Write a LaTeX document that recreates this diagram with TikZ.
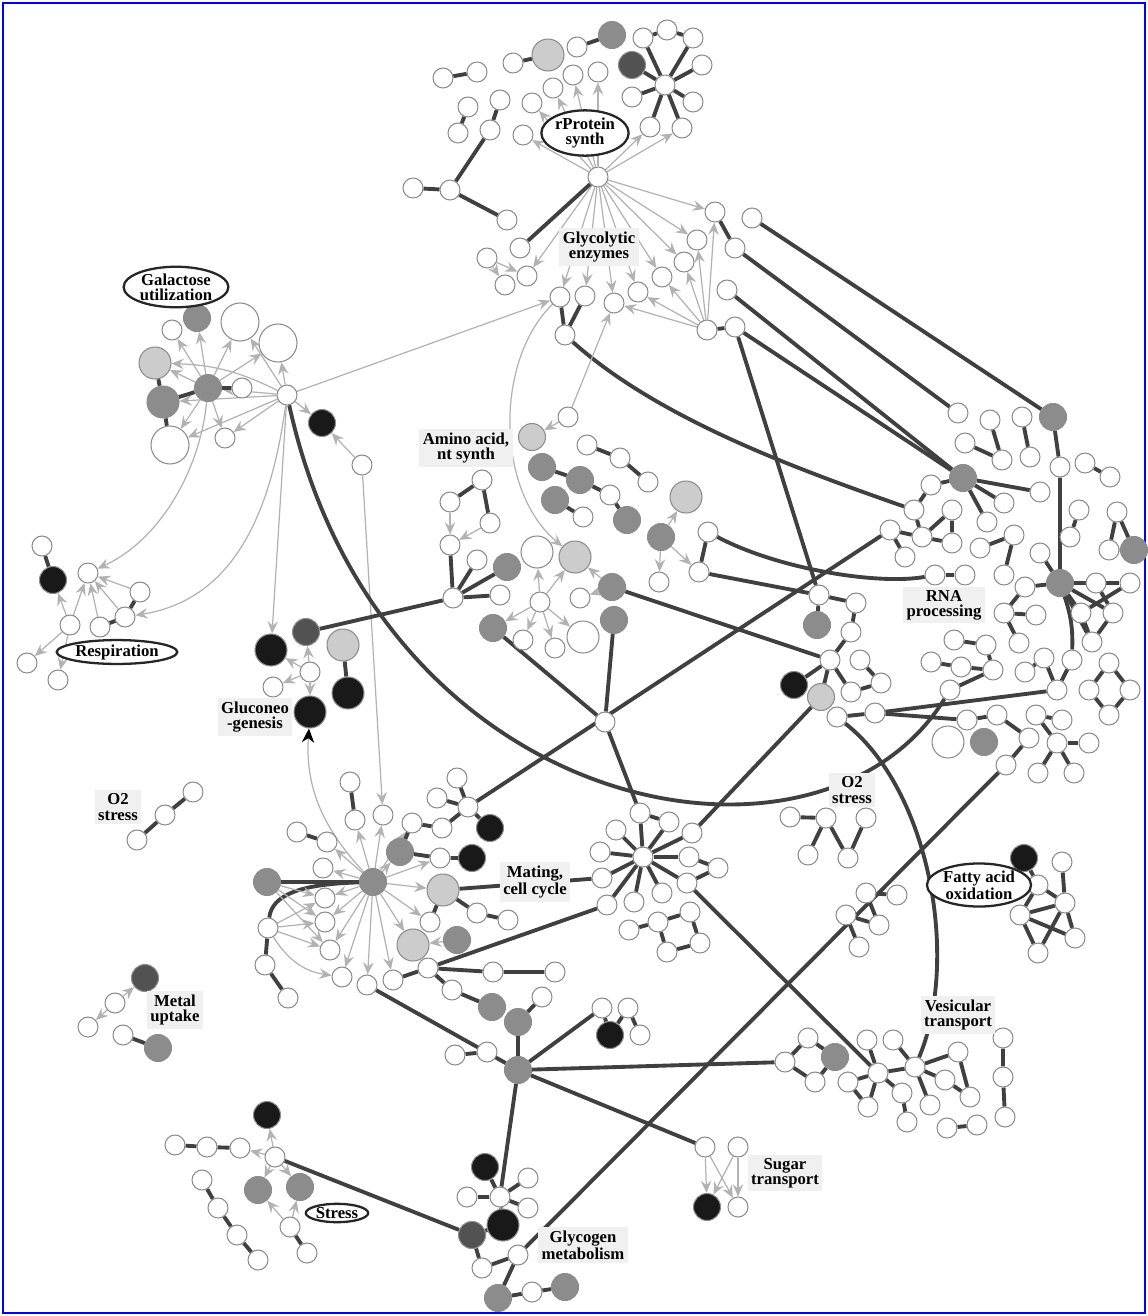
\documentclass[tikz,border=0pt]{standalone}
\usepackage{fontspec}
\setmainfont{Liberation Serif}
\usetikzlibrary{arrows.meta,shapes.geometric}
\pgfdeclarelayer{edges}
\pgfsetlayers{edges,main}
\newcommand{\grpfont}{\bfseries\fontsize{9.5}{8.6}\selectfont}
\begin{document}
\begin{tikzpicture}[x=0.02cm,y=-0.02cm,
    gene/.style={circle,draw=black!45,line width=0.6pt,fill=white,minimum size=0.4cm,inner sep=0pt},
    gmed/.style={gene,minimum size=0.54cm},
    gbig/.style={gene,minimum size=0.64cm},
    ghuge/.style={gene,minimum size=0.76cm},
    lite/.style={fill=black!20},
    gry/.style={fill=black!45},
    dkgr/.style={fill=black!68},
    dark/.style={fill=black!90},
    lnk/.style={draw=black!75,line width=2.2pt},
    reg/.style={draw=black!30,line width=0.7pt,-{Stealth[length=7pt,width=6pt,inset=2.5pt]}},
    tag/.style={fill=black!6,align=center,font=\grpfont,inner sep=2pt},
    otag/.style={ellipse,draw=black!85,line width=1.3pt,fill=white,align=center,font=\grpfont,inner sep=0.5pt}]
\useasboundingbox (0,0) rectangle (1148,1316);
\draw[blue,line width=1.5pt] (3,3) rectangle (1145,1313);

% rProtein synth
\node[gene] (r0) at (598,177) {};
\node[gene] (r1) at (523,135) {}; \node[gene] (r2) at (532,103) {}; \node[gene] (r3) at (553,88) {};
\node[gene] (r4) at (573,75) {}; \node[gene] (r5) at (598,72) {}; \node[gene] (r6) at (650,127) {};
\node[gene] (r7) at (682,128) {};
\node[gene] (s0) at (665,85) {}; \node[gene] (s1) at (643,38) {}; \node[gene] (s2) at (667,30) {};
\node[gene] (s3) at (693,38) {}; \node[gene] (s4) at (702,65) {}; \node[gene] (s5) at (693,102) {};
\node[gene] (s7) at (632,97) {}; \node[gmed,dkgr] (s8) at (632,65) {};
\node[gene] (p1a) at (513,63) {}; \node[gbig,lite] (p1b) at (548,55) {};
\node[gene] (p2a) at (577,47) {}; \node[gmed,gry] (p2b) at (612,35) {};
\node[gene] (p3a) at (443,78) {}; \node[gene] (p3b) at (477,72) {};
\node[gene] (c1) at (468,107) {}; \node[gene] (c2) at (458,133) {}; \node[gene] (c3) at (500,100) {};
\node[gene] (c4) at (490,130) {}; \node[gene] (c5) at (450,190) {}; \node[gene] (c6) at (413,188) {};
\node[gene] (c7) at (507,220) {};
\node[gene] (g1) at (520,248) {}; \node[gene] (g2) at (487,258) {}; \node[gene] (g3) at (527,276) {};
\node[gene] (g4) at (505,285) {};
\node[otag] (rpsyn) at (585,133) {rProtein\\synth};

% glycolytic enzymes
\node[gene] (t1) at (715,212) {}; \node[gene] (t2) at (697,240) {}; \node[gene] (t3) at (684,262) {};
\node[gene] (t4) at (662,277) {}; \node[gene] (t5) at (638,292) {}; \node[gene] (t6) at (614,303) {};
\node[gene] (t7) at (585,296) {}; \node[gene] (t8) at (560,297) {};
\node[gene] (gh) at (707,330) {}; \node[gene] (gk) at (735,327) {}; \node[gene] (tz) at (752,218) {};
\node[gene] (ta) at (735,248) {}; \node[gene] (tb) at (727,290) {}; \node[gene] (h1) at (565,335) {};
\node[tag] (glyc) at (599,247) {Glycolytic\\enzymes};

% galactose utilization
\node[gene] (gH) at (287,395) {}; \node[gmed,dark] (gD) at (322,423) {}; \node[gene] (gA) at (362,465) {};
\node[gmed,gry] (gM) at (208,388) {}; \node[gene] (gM2) at (242,388) {};
\node[gbig,lite] (gL) at (155,363) {}; \node[gbig,gry] (gN) at (163,402) {};
\node[ghuge] (gB) at (170,445) {}; \node[gene] (gT) at (172,330) {}; \node[gmed,gry] (gG) at (197,318) {};
\node[ghuge] (gW1) at (240,322) {}; \node[ghuge] (gW2) at (278,343) {}; \node[gene] (gS) at (225,438) {};
\node[otag] (galut) at (176,287) {Galactose\\utilization};

% respiration
\node[gene] (rA) at (42,546) {}; \node[gmed,dark] (rB) at (53,580) {}; \node[gene] (rC) at (88,573) {};
\node[gene] (rD) at (140,592) {}; \node[gene] (rE) at (125,617) {}; \node[gene] (rF) at (100,627) {};
\node[gene] (rG) at (70,625) {}; \node[gene] (rH) at (27,663) {}; \node[gene] (rI) at (58,680) {};
\node[otag] (resp) at (117,652) {Respiration};

% gluconeogenesis
\node[gbig,dark] (gcD1) at (271,650) {}; \node[gmed,dkgr] (gcD2) at (306,632) {};
\node[gene] (gcS) at (310,672) {}; \node[gene] (gcW) at (273,687) {}; \node[gbig,dark] (gcC) at (310,712) {};
\node[gbig,lite] (gcL) at (343,645) {}; \node[gbig,dark] (gcK) at (348,693) {};
\node[tag] (gluco) at (255,717) {Gluconeo\\-genesis};

% amino acid, nt synth
\node[gene] (aA) at (482,480) {}; \node[gene] (aB) at (450,502) {}; \node[gene] (aC) at (490,523) {};
\node[gene] (aD) at (450,545) {}; \node[gene] (aH) at (453,598) {}; \node[gene] (aE) at (477,560) {};
\node[gmed,gry] (aF) at (507,567) {}; \node[gene] (aG) at (500,595) {};
\node[gene] (aI) at (540,602) {}; \node[gbig] (aJ) at (537,552) {}; \node[gbig,lite] (aK) at (575,557) {};
\node[gmed,gry] (aL) at (493,628) {}; \node[gene] (aP) at (523,640) {}; \node[gene] (aQ) at (555,648) {};
\node[gbig] (aR) at (583,637) {}; \node[gmed,gry] (aM) at (612,587) {}; \node[gene] (aS) at (580,598) {};
\node[gmed,gry] (aN) at (614,620) {};
\node[gene] (u1) at (568,417) {}; \node[gmed,lite] (u2) at (532,437) {};
\node[gene] (a1) at (587,445) {}; \node[gene] (a2) at (620,458) {}; \node[gene] (a3) at (648,482) {};
\node[gmed,gry] (b1) at (542,467) {}; \node[gmed,gry] (b2) at (580,480) {}; \node[gene] (b3) at (610,495) {};
\node[gmed,gry] (b4) at (627,520) {}; \node[gmed,gry] (b5) at (555,500) {}; \node[gene] (b6) at (583,517) {};
\node[gmed,gry] (e1) at (661,537) {}; \node[gbig,lite] (e2) at (686,497) {}; \node[gene] (e3) at (659,582) {};
\node[gene] (e4) at (708,532) {}; \node[gene] (e5) at (699,572) {};
\node[tag] (amino) at (466,448) {Amino acid,\\nt synth};

% centre right
\node[gene] (q1) at (819,595) {}; \node[gene] (q2) at (856,603) {}; \node[gmed,gry] (q3) at (817,625) {};
\node[gene] (q4) at (851,632) {}; \node[gene] (q5) at (830,660) {}; \node[gmed,dark] (q6) at (794,685) {};
\node[gmed,lite] (q7) at (821,697) {}; \node[gene] (q8) at (860,660) {}; \node[gene] (q9) at (881,683) {};
\node[gene] (q10) at (851,692) {};
\node[gene] (w1) at (605,722) {}; \node[gene] (w2) at (837,717) {}; \node[gene] (w3) at (875,713) {};
\node[gene] (w4) at (967,720) {};

% RNA processing
\node[gmed,gry] (R1) at (963,478) {}; \node[gene] (R2) at (931,485) {}; \node[gene] (R3) at (914,510) {};
\node[gene] (R4) at (1004,503) {}; \node[gene] (R5) at (987,522) {}; \node[gene] (R6) at (1040,492) {};
\node[gene] (R7) at (922,537) {}; \node[gene] (R8) at (952,510) {}; \node[gene] (R9) at (952,543) {};
\node[gene] (R10) at (890,530) {}; \node[gene] (R11) at (905,557) {};
\node[gene] (R12) at (1014,535) {}; \node[gene] (R13) at (1004,575) {}; \node[gene] (R14) at (980,548) {};
\node[gene] (k1) at (935,575) {}; \node[gene] (k2) at (965,575) {};
\node[gmed,gry] (RH) at (1060,583) {};
\node[gene] (RS1) at (1040,553) {}; \node[gene] (RS2) at (1025,587) {}; \node[gene] (RS3) at (1081,613) {};
\node[gene] (RS4) at (1113,613) {}; \node[gene] (RS5) at (1092,642) {}; \node[gene] (RS6) at (1096,583) {};
\node[gene] (RS7) at (1130,583) {}; \node[gene] (RS8) at (1004,613) {}; \node[gene] (RS9) at (1019,643) {};
\node[gene] (RS10) at (1036,615) {};
\node[gene] (RU1) at (1079,510) {}; \node[gene] (RU2) at (1070,537) {}; \node[gene] (RU3) at (1117,512) {};
\node[gene] (RU4) at (1109,550) {}; \node[gmed,gry] (RU5) at (1134,550) {};
\node[gene] (RL) at (1072,660) {}; \node[gene] (RM) at (1057,690) {}; \node[gene] (RN) at (1044,658) {};
\node[gene] (RO) at (1025,672) {};
\node[gene] (RX1) at (1109,663) {}; \node[gene] (RX2) at (1089,690) {}; \node[gene] (RX3) at (1130,690) {};
\node[gene] (RX4) at (1109,715) {};
\node[gene] (m1) at (954,640) {}; \node[gene] (m2) at (986,645) {}; \node[gene] (m3) at (931,662) {};
\node[gene] (m4) at (961,667) {}; \node[gene] (m5) at (993,670) {}; \node[gene] (m6) at (950,690) {};
\node[gbig] (n1) at (948,742) {}; \node[gmed,gry] (n2) at (984,742) {}; \node[gene] (n3) at (997,715) {};
\node[gene] (n4) at (1029,738) {}; \node[gene] (n5) at (1036,715) {}; \node[gene] (n6) at (1062,720) {};
\node[gene] (n7) at (1006,765) {}; \node[gene] (n8) at (1057,743) {}; \node[gene] (n9) at (1089,743) {};
\node[gene] (n10) at (1038,773) {}; \node[gene] (n11) at (1074,773) {};
\node[gene] (T1) at (958,413) {}; \node[gene] (T2) at (990,420) {}; \node[gene] (T3) at (1022,417) {};
\node[gmed,gry] (T4) at (1053,417) {}; \node[gene] (T5) at (965,443) {}; \node[gene] (T6) at (1002,460) {};
\node[gene] (T7) at (1030,457) {}; \node[gene] (T8) at (1060,467) {}; \node[gene] (T9) at (1085,463) {};
\node[gene] (T10) at (1110,477) {};
\node[tag] (rnap) at (944,605) {RNA\\processing};

% mating, cell cycle
\node[gmed,gry] (mH) at (373,882) {}; \node[gmed,gry] (mL) at (267,882) {}; \node[gene] (mS) at (268,928) {};
\node[gene] (mS2) at (265,965) {}; \node[gene] (mS3) at (288,998) {};
\node[gene] (M1) at (350,782) {}; \node[gene] (M2) at (355,820) {}; \node[gene] (M3) at (383,815) {};
\node[gene] (M4) at (297,832) {}; \node[gene] (M5) at (327,842) {}; \node[gene] (M6) at (323,868) {};
\node[gene] (M7) at (325,898) {}; \node[gene] (M8) at (325,922) {}; \node[gene] (M9) at (330,950) {};
\node[gene] (M10) at (342,977) {}; \node[gene] (M11) at (367,985) {}; \node[gene] (M12) at (393,980) {};
\node[gmed,gry] (M13) at (400,852) {}; \node[gene] (M14) at (412,823) {}; \node[gene] (M15) at (440,858) {};
\node[gbig,lite] (M16) at (443,890) {}; \node[gene] (M17) at (430,922) {}; \node[gbig,lite] (M18) at (413,945) {};
\node[gmed,gry] (M19) at (457,940) {}; \node[gmed,dark] (M20) at (472,858) {}; \node[gene] (M21) at (477,913) {};
\node[gene] (M22) at (508,920) {}; \node[gene] (M23) at (442,828) {}; \node[gene] (M24) at (468,807) {};
\node[gene] (M25) at (457,778) {}; \node[gene] (M26) at (437,798) {}; \node[gmed,dark] (M27) at (490,828) {};
\node[gene] (M28) at (428,968) {}; \node[gene] (M29) at (493,972) {}; \node[gene] (M30) at (555,972) {};
\node[gene] (M31) at (452,990) {}; \node[gmed,gry] (M32) at (492,1007) {};
\node[gene] (H0) at (643,857) {}; \node[gene] (H1) at (640,813) {}; \node[gene] (H2) at (669,822) {};
\node[gene] (H3) at (616,830) {}; \node[gene] (H4) at (692,833) {}; \node[gene] (H5) at (600,852) {};
\node[gene] (H6) at (689,857) {}; \node[gene] (H7) at (602,878) {}; \node[gene] (H8) at (607,905) {};
\node[gene] (H9) at (634,902) {}; \node[gene] (H10) at (662,893) {}; \node[gene] (H11) at (687,883) {};
\node[gene] (H12) at (718,868) {};
\node[gene] (X1) at (690,912) {}; \node[gene] (X2) at (658,922) {}; \node[gene] (X3) at (629,930) {};
\node[gene] (X4) at (700,943) {}; \node[gene] (X5) at (667,952) {};
\node[tag] (mating) at (535,882) {Mating,\\cell cycle};

% O2 stress, fatty acid oxidation
\node[gene] (P1) at (790,817) {}; \node[gene] (P2) at (826,818) {}; \node[gene] (P3) at (866,818) {};
\node[gene] (P4) at (808,855) {}; \node[gene] (P5) at (848,858) {};
\node[gene] (P6) at (866,893) {}; \node[gene] (P7) at (897,895) {}; \node[gene] (P8) at (879,925) {};
\node[gene] (P9) at (846,915) {}; \node[gene] (P10) at (859,947) {};
\node[tag] (otwor) at (852,790) {O2\\stress};
\node[gmed,dark] (F1) at (1024,858) {}; \node[gene] (F2) at (1038,885) {}; \node[gene] (F3) at (1062,862) {};
\node[gene] (F4) at (1065,903) {}; \node[gene] (F5) at (1020,915) {}; \node[gene] (F6) at (1075,938) {};
\node[gene] (F7) at (1038,953) {};
\node[otag] (fatty) at (979,885) {Fatty acid\\oxidation};
\node[gene] (O1) at (193,792) {}; \node[gene] (O2) at (165,815) {}; \node[gene] (O3) at (137,840) {};
\node[tag] (otwol) at (118,807) {O2\\stress};

% vesicular transport
\node[gene] (vA) at (808,1038) {}; \node[gmed,gry] (vG) at (835,1057) {}; \node[gene] (vB) at (785,1062) {};
\node[gene] (vC) at (815,1082) {};
\node[gene] (vH) at (878,1073) {}; \node[gene] (vI) at (867,1040) {}; \node[gene] (vJ) at (893,1040) {};
\node[gene] (vK) at (848,1082) {}; \node[gene] (vL) at (868,1107) {}; \node[gene] (vM) at (902,1093) {};
\node[gene] (vN) at (907,1122) {};
\node[gene] (vH2) at (915,1067) {}; \node[gene] (vO) at (958,1052) {}; \node[gene] (vP) at (945,1080) {};
\node[gene] (vQ) at (970,1097) {}; \node[gene] (vR) at (930,1105) {}; \node[gene] (vS) at (947,1128) {};
\node[gene] (vT) at (977,1125) {};
\node[gene] (vU) at (1003,1038) {}; \node[gene] (vV) at (1003,1077) {}; \node[gene] (vW) at (1005,1117) {};
\node[tag] (vesic) at (958,1015) {Vesicular\\transport};

% metal uptake
\node[gmed,dkgr] (Me1) at (145,978) {}; \node[gene] (Me2) at (115,1003) {}; \node[gene] (Me3) at (88,1027) {};
\node[gene] (Me4) at (123,1035) {}; \node[gmed,gry] (Me5) at (158,1048) {};
\node[tag] (metal) at (175,1010) {Metal\\uptake};

% glycogen, sugar transport
\node[gmed,gry] (Y0) at (518,1070) {}; \node[gmed,gry] (Y1) at (518,1022) {}; \node[gene] (Y2) at (542,997) {};
\node[gene] (Y3) at (602,1008) {}; \node[gene] (Y4) at (628,1008) {}; \node[gmed,dark] (Y5) at (610,1035) {};
\node[gene] (Y6) at (640,1035) {}; \node[gene] (Y7) at (455,1055) {}; \node[gene] (Y8) at (487,1052) {};
\node[gene] (S1) at (705,1147) {}; \node[gene] (S2) at (738,1147) {}; \node[gmed,dark] (S3) at (707,1207) {};
\node[gene] (S4) at (738,1207) {};
\node[tag] (sugar) at (785,1173) {Sugar\\transport};
\node[gmed,dark] (Z1) at (485,1167) {}; \node[gene] (Z2) at (500,1197) {}; \node[gene] (Z3) at (528,1178) {};
\node[gene] (Z4) at (467,1197) {}; \node[gene] (Z5) at (528,1208) {}; \node[gbig,dark] (Z6) at (503,1225) {};
\node[gmed,dkgr] (Z7) at (472,1235) {}; \node[gene] (Z8) at (518,1255) {}; \node[gene] (Z9) at (482,1268) {};
\node[gmed,gry] (Z10) at (498,1298) {}; \node[gene] (Z11) at (532,1292) {}; \node[gmed,gry] (Z12) at (565,1287) {};
\node[tag] (glycog) at (583,1245) {Glycogen\\metabolism};

% stress
\node[gene] (St0) at (275,1157) {}; \node[gmed,dark] (St1) at (267,1115) {}; \node[gene] (St2) at (240,1148) {};
\node[gene] (St3) at (207,1147) {}; \node[gene] (St4) at (175,1145) {}; \node[gmed,gry] (St5) at (258,1190) {};
\node[gmed,gry] (St6) at (300,1187) {}; \node[gene] (St7) at (290,1227) {}; \node[gene] (St8) at (307,1253) {};
\node[gene] (Q1) at (202,1180) {}; \node[gene] (Q2) at (218,1208) {}; \node[gene] (Q3) at (237,1235) {};
\node[gene] (Q4) at (258,1260) {};
\node[otag] (stress) at (337,1213) {Stress};

\begin{pgfonlayer}{edges}
\foreach \t in {r1,r2,r3,r4,r5,r6,r7,t1,t2,t3,t4,t5,t6,t7,t8,g3} \draw[reg] (r0) -- (\t);
\foreach \t in {s1,s3,s4,s5,r6,r7,s7,s8} \draw[lnk] (s0) -- (\t);
\draw[lnk] (s1) -- (s2) -- (s3);
\draw[lnk] (p1a) -- (p1b); \draw[lnk] (p2a) -- (p2b); \draw[lnk] (p3a) -- (p3b);
\draw[lnk] (c1) -- (c2); \draw[lnk] (c3) -- (c4) -- (c5) -- (c6); \draw[lnk] (c5) -- (c7);
\draw[lnk] (r0) -- (g1);
\draw[reg] (g2) -- (g3); \draw[reg] (g2) -- (g4);
\foreach \t in {t1,t2,t3,t4,t5,t6} \draw[reg] (gh) -- (\t);
\draw[lnk] (gh) -- (gk); \draw[lnk] (t1) -- (ta);
\draw[lnk] (t8) -- (h1); \draw[lnk] (t7) -- (h1);
\draw[lnk] (ta) -- (T1); \draw[lnk] (tz) -- (T4);
\draw[lnk] (tb) -- (R1); \draw[lnk] (gk) -- (R1); \draw[lnk] (gk) -- (q1);
\draw[lnk] (h1) .. controls (660,420) and (800,470) .. (R3);
\draw[reg] (t8) .. controls (495,360) and (495,490) .. (aK);
\draw[reg] (u1) -- (t6); \draw[reg] (u1) -- (u2);

\foreach \t in {gT,gG,gW1,gL,gB,gS,gW2} \draw[reg] (gM) -- (\t);
\foreach \t in {gW2,gB,gS,gM,gN,gD,gW1} \draw[reg] (gH) -- (\t);
\draw[reg] (gH) to[bend right=12] (gL);
\draw[lnk] (gL) -- (gN) -- (gB); \draw[lnk] (gN) -- (gM) -- (gM2);
\draw[reg] (gA) -- (gD);
\draw[reg] (gH) -- (t8);
\draw[reg] (gM) .. controls (200,470) and (160,540) .. (rC);
\draw[reg] (gH) .. controls (270,520) and (230,600) .. (rE);
\draw[reg] (gH) -- (gcD1);
\draw[reg] (gA) -- (M3);
\draw[lnk] (gH) .. controls (380,820) and (820,900) .. (m6);

\draw[lnk] (rA) -- (rB); \draw[lnk] (rD) -- (rE) -- (rF);
\foreach \t in {rB,rC,rH,rI} \draw[reg] (rG) -- (\t);
\foreach \s in {rF,rE,rD} \draw[reg] (\s) -- (rC);

\foreach \t in {gcD1,gcD2,gcW,gcC} \draw[reg] (gcS) -- (\t);
\draw[lnk] (gcL) -- (gcK);
\draw[lnk] (gcD2) -- (aH);
\draw[draw=black!30,line width=0.7pt,-{Stealth[length=8pt,width=7pt,inset=2.5pt,black]}] (mH) .. controls (325,830) and (305,790) .. (gcC);

\draw[lnk] (aA) -- (aB); \draw[lnk] (aA) -- (aC);
\draw[reg] (aB) -- (aD); \draw[reg] (aC) -- (aD);
\draw[lnk] (aD) -- (aH); \draw[lnk] (aH) -- (aE); \draw[lnk] (aH) -- (aF); \draw[lnk] (aH) -- (aG);
\foreach \t in {aJ,aK,aL,aP,aQ,aR} \draw[reg] (aI) -- (\t);
\draw[reg] (aM) -- (aK); \draw[reg] (aM) -- (aS);
\draw[lnk] (a1) -- (a2) -- (a3);
\draw[lnk] (b1) -- (b2) -- (b3) -- (b4); \draw[lnk] (b5) -- (b6);
\foreach \t in {e2,e3,e5} \draw[reg] (e1) -- (\t);
\draw[lnk] (e4) -- (e5); \draw[lnk] (e5) -- (q1);
\draw[lnk] (e4) .. controls (780,570) and (880,585) .. (k1);
\draw[lnk] (aM) -- (q5); \draw[lnk] (aN) -- (w1); \draw[lnk] (aL) -- (w1); \draw[lnk] (w1) -- (H1);

\draw[lnk] (q1) -- (q2) -- (q4) -- (q5); \draw[lnk] (q1) -- (q3);
\draw[lnk] (q5) -- (q6); \draw[lnk] (q5) -- (q7); \draw[lnk] (q5) -- (q10);
\draw[lnk] (q8) -- (q9) -- (q10);
\draw[lnk] (q7) -- (H4);
\draw[lnk] (w2) -- (w3) -- (w4); \draw[lnk] (w3) -- (RM);
\draw[lnk] (w2) .. controls (930,790) and (960,960) .. (vH2);

\foreach \t in {R4,R5,R6,R2} \draw[lnk] (R1) -- (\t);
\draw[lnk] (R2) -- (R3) -- (R7); \draw[lnk] (R7) -- (R8) -- (R9) -- (R7);
\draw[lnk] (R10) -- (R7); \draw[lnk] (R10) -- (R11);
\draw[lnk] (R12) -- (R13); \draw[lnk] (R14) -- (R12); \draw[lnk] (k1) -- (k2);
\draw[lnk] (T4) -- (T8) -- (RH);
\foreach \t in {RS1,RS2,RS3,RS4,RS5,RS6,RS7} \draw[lnk] (RH) -- (\t);
\draw[lnk] (RS6) -- (RS4); \draw[lnk] (RS7) -- (RS3); \draw[lnk] (RS3) -- (RS5) -- (RS4);
\draw[lnk] (RS2) -- (RS8) -- (RS9); \draw[lnk] (RS8) -- (RS10);
\draw[lnk] (RH) to[bend left=10] (RL);
\draw[lnk] (RL) -- (RM); \draw[lnk] (RN) -- (RM); \draw[lnk] (RO) -- (RN);
\draw[lnk] (RU1) -- (RU2); \draw[lnk] (RU3) -- (RU4) -- (RU5) -- (RU3);
\draw[lnk] (RX1) -- (RX2) -- (RX4) -- (RX3) -- (RX1);
\draw[lnk] (m1) -- (m2) -- (m5); \draw[lnk] (m3) -- (m4) -- (m5); \draw[lnk] (m5) -- (m6);
\draw[lnk] (n3) -- (w4); \draw[lnk] (n3) -- (n4) -- (n7); \draw[lnk] (n5) -- (n6);
\draw[lnk] (n8) -- (n9); \draw[lnk] (n8) -- (n10); \draw[lnk] (n8) -- (n11); \draw[lnk] (n5) -- (n8);
\draw[lnk] (T2) -- (T6); \draw[lnk] (T5) -- (T6); \draw[lnk] (T3) -- (T7); \draw[lnk] (T9) -- (T10);

\draw[lnk] (mH) -- (mL);
\draw[lnk] (mS) .. controls (272,895) and (300,884) .. (mH);
\draw[lnk] (mS) -- (mS2) -- (mS3);
\foreach \t in {M3,M2,M5,M6,M7,M8,M9,M10,M11,M12,M13,M15,M16,M17,M18,M14} \draw[reg] (mH) -- (\t);
\foreach \t in {M7,M8,M9} \draw[reg] (mL) -- (\t);
\foreach \t in {M7,M8,M9} \draw[reg] (mS) -- (\t);
\draw[reg] (mS) to[bend right=25] (M10);
\draw[lnk] (M1) -- (M2); \draw[lnk] (M4) -- (M5);
\draw[lnk] (M13) -- (M14); \draw[lnk] (M13) -- (M15) -- (M20);
\draw[lnk] (M16) -- (M17); \draw[lnk] (M16) -- (M21) -- (M22);
\draw[reg] (M19) -- (M18);
\draw[lnk] (M14) -- (M23) -- (M24); \draw[lnk] (M24) -- (M25); \draw[lnk] (M24) -- (M26); \draw[lnk] (M24) -- (M27);
\draw[lnk] (M24) -- (R10);
\draw[lnk] (M12) -- (M28); \draw[lnk] (M28) -- (M29) -- (M30); \draw[lnk] (M28) -- (M31) -- (M32);
\draw[lnk] (M28) -- (H8);
\draw[lnk] (M16) -- (H7);
\draw[lnk] (M11) -- (Y0);
\foreach \t in {H1,H2,H3,H4,H5,H6,H7,H8,H9,H10,H11} \draw[lnk] (H0) -- (\t);
\draw[lnk] (H1) -- (H2); \draw[lnk] (H6) -- (H12) -- (H11);
\draw[lnk] (X3) -- (X2) -- (X1) -- (X4) -- (X5) -- (X2);
\draw[lnk] (H11) -- (vH);

\draw[lnk] (P1) -- (P2) -- (P4); \draw[lnk] (P2) -- (P5) -- (P3);
\draw[lnk] (P6) -- (P7); \draw[lnk] (P6) -- (P8) -- (P9) -- (P10);
\draw[lnk] (F1) -- (F2) -- (F4); \draw[lnk] (F3) -- (F4);
\foreach \t in {F2,F4,F6,F7} \draw[lnk] (F5) -- (\t);
\draw[lnk] (F4) -- (F6); \draw[lnk] (F4) -- (F7);
\draw[lnk] (O1) -- (O2) -- (O3);
\draw[reg] (Me2) -- (Me1); \draw[reg] (Me2) -- (Me3); \draw[lnk] (Me4) -- (Me5);

\draw[lnk] (vA) -- (vG) -- (vC) -- (vB) -- (vA);
\foreach \t in {vI,vK,vL,vM} \draw[lnk] (vH) -- (\t);
\draw[lnk] (vK) -- (vL); \draw[lnk] (vM) -- (vN); \draw[lnk] (vJ) -- (vH2); \draw[lnk] (vH) -- (vH2);
\draw[lnk] (vH2) -- (vO) -- (vQ) -- (vP) -- (vH2); \draw[lnk] (vH2) -- (vR);
\draw[lnk] (vS) -- (vT); \draw[lnk] (vU) -- (vV) -- (vW);

\draw[lnk] (Y0) -- (Y1) -- (Y2); \draw[lnk] (Y0) -- (Y3);
\draw[lnk] (Y3) -- (Y5) -- (Y4) -- (Y6); \draw[lnk] (Y7) -- (Y8);
\draw[lnk] (Y0) -- (vB); \draw[lnk] (Y0) -- (S1); \draw[lnk] (Y0) -- (Z2);
\draw[reg] (S1) -- (S3); \draw[reg] (S1) -- (S4); \draw[reg] (S2) -- (S4); \draw[reg] (S2) -- (S3);
\foreach \t in {Z1,Z3,Z4,Z5,Z6} \draw[lnk] (Z2) -- (\t);
\draw[lnk] (Z6) -- (Z7) -- (Z9) -- (Z8) -- (Z10) -- (Z11) -- (Z12);
\draw[lnk] (Z8) -- (n7);
\draw[lnk] (St0) -- (Z7);

\foreach \t in {St1,St2,St5,St6} \draw[reg] (St0) -- (\t);
\draw[reg] (St7) -- (St5); \draw[reg] (St7) -- (St6);
\draw[lnk] (St4) -- (St3) -- (St2); \draw[lnk] (St7) -- (St8);
\draw[lnk] (Q1) -- (Q2) -- (Q3) -- (Q4);
\end{pgfonlayer}
\end{tikzpicture}
\end{document}
